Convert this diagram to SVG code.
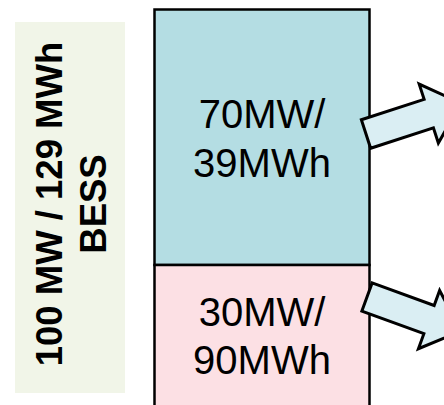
<svg xmlns="http://www.w3.org/2000/svg" width="444" height="405" viewBox="0 0 444 405">
<style>
.lbl{font-family:"Liberation Sans",Arial,sans-serif;font-size:40px;fill:#000;text-anchor:middle}
.side{font-family:"Liberation Sans",Arial,sans-serif;font-size:36.5px;font-weight:bold;fill:#000;text-anchor:middle}
.box{stroke:#000;stroke-width:2.5}
.arrow{fill:#DAEEF3;stroke:#000;stroke-width:3;stroke-linejoin:miter}
</style>
<defs>
<polygon id="arr" points="0,-15 66,-15 66,-31 100,0 66,31 66,15 0,15"/>
</defs>
<rect width="444" height="405" fill="#fff"/>
<g id="side-label">
<rect x="15" y="22" width="110" height="371" fill="#F1F5E8"/>
<g transform="translate(0,204) rotate(-90)">
<text class="side" x="0" y="62">100 MW / 129 MWh</text>
<text class="side" x="0" y="106">BESS</text>
</g>
</g>
<g id="node-top">
<rect class="box" x="154.5" y="9.5" width="215" height="255.5" fill="#B4DDE3"/>
<text class="lbl" x="262" y="128">70MW/</text>
<text class="lbl" x="262" y="177">39MWh</text>
</g>
<g id="node-bottom">
<rect class="box" x="154.5" y="265" width="215" height="160" fill="#FCE0E4"/>
<text class="lbl" x="262" y="326">30MW/</text>
<text class="lbl" x="262" y="374">90MWh</text>
</g>
<g id="connectors">
<use href="#arr" class="arrow" transform="translate(366,134) rotate(-18)"/>
<use href="#arr" class="arrow" transform="translate(367,297) rotate(20)"/>
</g>
</svg>
